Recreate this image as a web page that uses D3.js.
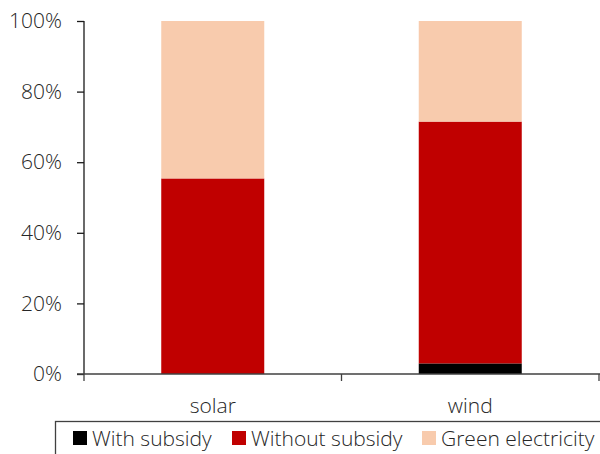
<!DOCTYPE html>
<html>
<head>
<meta charset="utf-8">
<script src="https://cdn.jsdelivr.net/npm/d3@7"></script>
<style>
  body { margin: 0; background: #fff; }
  svg text { font-family: "Open Sans", sans-serif; font-weight: 300; fill: #262626; }
</style>
</head>
<body>
<svg id="chart" width="600" height="454"></svg>
<script>
// data
var categories = ["solar", "wind"];
var seriesNames = ["With subsidy", "Without subsidy", "Green electricity"];
var withSubsidy = [0, 3.0];
var withoutSubsidy = [55.4, 68.5];
var greenElectricity = [44.6, 28.5];
var yTicks = [0, 20, 40, 60, 80, 100];
var colors = ["#000000", "#C00000", "#F8CBAD"];

var svg = d3.select("#chart");

var rows = categories.map(function(c, i) {
  return { cat: c, "With subsidy": withSubsidy[i], "Without subsidy": withoutSubsidy[i], "Green electricity": greenElectricity[i] };
});
var stacked = d3.stack().keys(seriesNames)(rows);

var x = d3.scaleBand().domain(categories).range([84, 599]).paddingInner(0.6).paddingOuter(0.3);
var y = d3.scaleLinear().domain([0, 100]).range([374, 21]);
var color = d3.scaleOrdinal().domain(seriesNames).range(colors);

// bars
svg.append("g").selectAll("g")
  .data(stacked)
  .enter().append("g")
    .attr("fill", function(d) { return color(d.key); })
  .selectAll("rect")
  .data(function(d) { return d; })
  .enter().append("rect")
    .attr("x", function(d) { return x(d.data.cat); })
    .attr("y", function(d) { return y(d[1]); })
    .attr("height", function(d) { return y(d[0]) - y(d[1]); })
    .attr("width", x.bandwidth());

// y axis
var yAxis = svg.append("g")
  .attr("transform", "translate(84,0)")
  .call(d3.axisLeft(y).tickValues(yTicks).tickSize(7).tickPadding(15)
    .tickFormat(function(d) { return d + "%"; }));
yAxis.selectAll("path,line").attr("stroke", "#1a1a1a").attr("stroke-width", 1.3);
yAxis.select(".domain").attr("d", "M0,21V374");
yAxis.selectAll("text").attr("font-size", 21).attr("font-family", null);

// x axis with ticks between categories
var xAxis = svg.append("g").attr("transform", "translate(0,374)");
xAxis.append("line").attr("x1", 77).attr("x2", 600).attr("stroke", "#404040").attr("stroke-width", 1.3);
var edges = [84, x(categories[1]) - x.step() * x.paddingInner() / 2, 599];
xAxis.selectAll(".tk").data(edges).enter().append("line")
  .attr("x1", function(d) { return d; }).attr("x2", function(d) { return d; })
  .attr("y1", 0).attr("y2", 7).attr("stroke", "#404040").attr("stroke-width", 1.3);
xAxis.selectAll("text").data(categories).enter().append("text")
  .attr("x", function(d) { return x(d) + x.bandwidth() / 2; })
  .attr("y", 39)
  .attr("text-anchor", "middle")
  .attr("font-size", 21)
  .text(function(d) { return d; });

// legend
var legend = svg.append("g");
legend.append("rect").attr("x", 55.5).attr("y", 421.5).attr("width", 560).attr("height", 40)
  .attr("fill", "none").attr("stroke", "#404040").attr("stroke-width", 1.3);
var legendX = [73, 232, 422];
var item = legend.selectAll(".item").data(seriesNames).enter().append("g")
  .attr("transform", function(d, i) { return "translate(" + legendX[i] + ",0)"; });
item.append("rect").attr("x", 0).attr("y", 431).attr("width", 14).attr("height", 14)
  .attr("fill", function(d) { return color(d); });
item.append("text").attr("x", 19).attr("y", 446).attr("font-size", 21)
  .text(function(d) { return d; });
</script>
</body>
</html>
